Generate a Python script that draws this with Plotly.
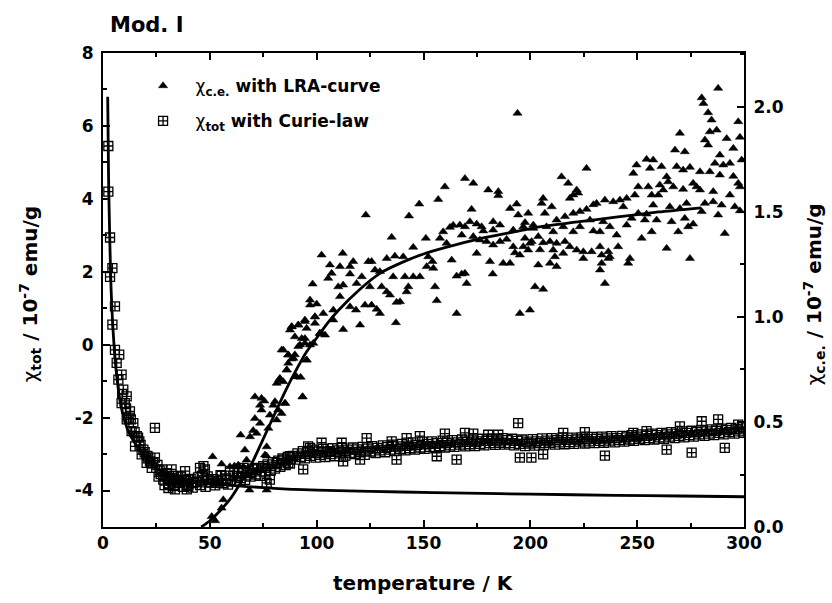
import plotly.graph_objects as go

# ---------------- data ----------------
# chi_c.e. (right axis, 10^-7 emu/g) measured points: temperature / value
tri_T = [51.3, 50.9, 52.5, 55.5, 56.3, 55.5, 59.4, 61.5, 63.3, 64.4, 65.7, 66.4, 67.2, 68.5, 68.8,
         70.3, 71.1, 71.9, 71.1, 73.5, 73.5, 74.2, 74.2, 75.5, 75.8, 76.6, 76.6, 76.6, 77.4, 78.1,
         79.7, 80.5, 81.3, 81.3, 82.0, 82.8, 83.6, 84.4, 84.4, 85.2, 86.0, 86.7, 86.7, 88.3, 89.8,
         88.3, 87.5, 90.6, 91.4, 92.5, 92.2, 93.4, 94.5, 94.5, 95.3, 96.9, 98.4, 99.2, 100.0, 96.9,
         96.9, 98.1, 102.3, 103.9, 101.5, 103.1, 99.2, 102.3, 105.4, 106.2, 107.0, 107.8, 107.8, 110.1, 110.9,
         110.9, 112.2, 112.4, 112.4, 115.6, 115.6, 115.6, 117.1, 118.4, 118.7, 120.3, 121.1, 122.6, 123.0, 124.2,
         124.9, 125.7, 125.7, 127.3, 128.1, 129.6, 129.6, 130.4, 132.8, 132.8, 134.3, 135.1, 135.8, 136.6, 137.1,
         137.4, 139.0, 140.5, 141.3, 142.1, 142.9, 143.2, 145.2, 145.2, 148.0, 148.3, 151.1, 151.5, 152.2, 154.2,
         154.6, 155.4, 156.2, 156.9, 157.7, 159.2, 160.0, 160.8, 162.4, 163.2, 163.9, 165.5, 165.5, 167.0, 167.9,
         167.9, 169.4, 169.4, 169.4, 170.2, 171.7, 172.5, 173.3, 173.3, 174.9, 174.9, 176.4, 177.2, 178.0, 179.5,
         180.3, 181.1, 182.4, 182.6, 182.6, 182.6, 185.0, 185.0, 185.8, 185.8, 187.3, 188.9, 190.5, 190.5, 192.0,
         192.0, 192.8, 193.6, 194.0, 194.3, 195.1, 195.1, 196.7, 196.7, 197.5, 197.5, 199.0, 199.0, 199.8, 199.8,
         200.6, 201.4, 201.4, 202.2, 203.7, 203.7, 204.5, 205.3, 206.0, 206.0, 206.0, 206.8, 207.6, 209.2, 209.2,
         210.0, 210.7, 210.7, 211.5, 212.3, 212.3, 212.3, 214.6, 215.4, 215.4, 216.2, 216.2, 217.7, 218.5, 218.5,
         220.1, 220.1, 220.1, 221.7, 221.7, 222.4, 223.2, 223.2, 224.8, 224.8, 226.3, 226.3, 227.9, 228.7, 229.5,
         229.5, 231.0, 232.6, 232.6, 232.6, 233.4, 233.4, 234.1, 234.9, 234.9, 236.5, 236.5, 237.2, 237.2, 238.8,
         240.4, 241.1, 241.9, 243.5, 245.1, 245.1, 245.8, 246.6, 247.4, 248.2, 248.9, 249.7, 250.5, 250.5, 252.1,
         253.6, 254.4, 254.4, 255.2, 256.0, 256.8, 256.8, 257.5, 257.5, 259.1, 259.9, 260.6, 261.4, 262.2, 263.8,
         263.8, 264.5, 265.3, 266.1, 266.9, 267.7, 268.5, 269.2, 270.0, 270.0, 271.5, 271.5, 272.3, 272.3, 273.1,
         273.9, 274.7, 274.7, 276.2, 276.2, 277.8, 279.4, 279.4, 280.2, 280.2, 281.0, 281.7, 281.7, 283.2, 283.2,
         284.0, 284.0, 284.8, 285.6, 285.6, 286.4, 287.2, 287.9, 287.9, 288.7, 288.7, 289.5, 290.3, 291.0, 291.9,
         293.4, 293.4, 295.0, 295.0, 295.7, 297.3, 297.3, 298.1, 298.1, 298.1, 298.9,
         85.2, 93.4, 82.4, 89.8, 86.0, 91.4, 94.5, 86.7, 89.1, 95.3, 83.6, 89.8, 93.0, 88.3, 91.4,
         94.5, 99.2, 95.3, 101.5]
tri_V = [0.335, 0.05, 0.03, 0.09, 0.13, 0.30, 0.287, 0.29, 0.295, 0.438, 0.287, 0.367, 0.319, 0.176, 0.43,
         0.46, 0.517, 0.446, 0.62, 0.494, 0.58, 0.557, 0.613, 0.60, 0.343, 0.382, 0.338, 0.176, 0.47, 0.533,
         0.58, 0.597, 0.51, 0.684, 0.557, 0.708, 0.541, 0.692, 0.843, 0.589, 0.748, 0.78, 0.82, 0.80, 0.82,
         0.954, 0.938, 0.716, 0.962, 0.713, 0.867, 0.62, 0.898, 0.978, 0.795, 0.867, 0.875, 0.97, 1.062, 1.081,
         1.057, 1.157, 0.922, 0.914, 0.922, 1.017, 1.001, 1.295, 1.184, 1.248, 1.208, 0.986, 1.033, 1.144, 1.24,
         1.097, 1.303, 1.152, 0.941, 1.205, 1.24, 1.049, 1.264, 1.033, 1.16, 0.962, 1.192, 1.057, 1.486, 1.264,
         1.144, 1.264, 1.057, 1.224, 1.037, 1.216, 1.017, 1.144, 1.279, 1.12, 1.105, 1.38, 1.192, 1.29, 0.973,
         1.07, 1.073, 1.287, 1.192, 1.12, 1.144, 1.481, 1.332, 1.192, 1.538, 1.192, 1.375, 1.24, 1.287, 1.264,
         1.232, 1.144, 1.078, 1.56, 1.375, 1.406, 1.62, 1.351, 1.427, 1.271, 1.437, 1.195, 1.017, 1.438, 1.39,
         1.205, 1.66, 1.43, 1.208, 1.16, 1.454, 1.513, 1.637, 1.383, 1.443, 1.303, 1.367, 1.43, 1.41, 1.359,
         1.605, 1.264, 1.205, 1.454, 1.414, 1.343, 1.597, 1.578, 1.438, 1.359, 1.256, 1.37, 1.517, 1.256, 1.414,
         1.335, 1.306, 1.538, 1.97, 1.486, 1.295, 1.017, 1.43, 1.335, 1.45, 1.375, 1.494, 1.319, 1.351, 1.033,
         1.359, 1.438, 1.422, 1.144, 1.248, 1.383, 1.32, 1.541, 1.565, 1.354, 1.132, 1.494, 1.43, 1.359, 1.256,
         1.525, 1.406, 1.319, 1.287, 1.462, 1.351, 1.24, 1.668, 1.43, 1.303, 1.478, 1.359, 1.637, 1.565, 1.335,
         1.581, 1.494, 1.406, 1.605, 1.319, 1.59, 1.502, 1.43, 1.311, 1.279, 1.708, 1.513, 1.462, 1.311, 1.535,
         1.41, 1.541, 1.406, 1.335, 1.224, 1.295, 1.256, 1.454, 1.557, 1.16, 1.311, 1.279, 1.43, 1.287, 1.549,
         1.39, 1.335, 1.557, 1.525, 1.565, 1.438, 1.256, 1.279, 1.47, 1.684, 1.581, 1.724, 1.62, 1.494, 1.375,
         1.462, 1.751, 1.49, 1.62, 1.708, 1.581, 1.406, 1.748, 1.533, 1.462, 1.581, 1.629, 1.716, 1.605, 1.668,
         1.327, 1.644, 1.525, 1.454, 1.62, 1.795, 1.716, 1.406, 1.875, 1.517, 1.70, 1.608, 1.787, 1.47, 1.541,
         1.43, 1.713, 1.279, 1.637, 1.443, 1.62, 1.692, 1.605, 2.044, 1.502, 2.017, 1.843, 1.541, 1.973, 1.819,
         1.882, 1.692, 1.938, 1.597, 1.549, 1.732, 1.89, 2.089, 1.486, 1.771, 1.676, 1.533, 1.724, 1.398, 1.85,
         1.732, 1.581, 1.803, 1.67, 1.525, 1.93, 1.637, 1.856, 1.62, 1.506, 1.748,
         0.589, 0.62, 0.70, 0.716, 0.748, 0.859, 0.875, 0.819, 0.803, 0.795, 0.843, 0.906, 0.898, 0.954, 0.962,
         0.986, 1.001, 0.946, 0.922]

# chi_tot (left axis, 10^-7 emu/g) measured points
sq_T = [2.5, 2.5, 3.3, 4.4, 3.3, 5.6, 4.4, 5.6, 7.6, 6.4, 8.7, 7.2, 9.5, 11.1, 8.7, 12.6, 11.1, 14.2, 13.4, 15.8,
        17.0, 15.0, 18.9, 18.1, 21.2, 24.3, 20.4, 22.8, 25.5, 27.5, 24.3, 29.8, 28.2, 32.1, 30.6, 33.7, 35.2, 38.4, 39.9, 39.2,
        42.3, 45.4, 47.7, 46.2, 49.3, 53.2, 55.5, 59.4, 62.6, 65.7, 68.8, 71.9, 76.6, 78.1, 75.8, 81.3, 84.4, 86.7, 32.9, 36.0,
        36.8, 32.1, 9.0, 10.2, 10.8, 12.0, 13.0, 14.8, 16.4, 17.6, 19.5, 20.8, 22.0, 23.5, 26.5, 27.0, 29.0, 31.0, 26.0, 28.8,
        30.5, 31.5, 33.0, 34.0, 35.5, 36.5, 37.5, 38.5, 40.0, 41.0, 42.0, 43.5, 44.5, 45.5, 47.0, 48.0, 49.0, 50.5, 51.5, 52.5,
        54.0, 55.0, 56.0, 57.5, 58.5, 59.5, 61.0, 62.0, 63.0, 64.5, 65.5, 66.5, 68.0, 69.0, 70.0, 71.5, 72.5, 73.5, 75.0, 76.0,
        77.0, 78.5, 79.5, 80.5, 82.0, 83.0, 84.0, 85.5, 86.5, 87.5, 89.0, 90.0, 91.0, 92.5, 93.5, 94.5, 96.0, 97.0, 98.0, 99.5,
        100.5, 101.5, 103.0, 104.0, 105.0, 106.5, 107.5, 108.5, 110.0, 111.0, 112.0, 113.5, 114.5, 115.5, 117.0, 118.0, 119.0, 120.5, 121.5, 122.5,
        124.0, 125.0, 126.0, 127.5, 128.5, 129.5, 131.0, 132.0, 133.0, 134.5, 135.5, 136.5, 138.0, 139.0, 140.0, 141.5, 142.5, 143.5, 145.0, 146.0,
        147.0, 148.5, 149.5, 150.5, 152.0, 153.0, 154.0, 155.5, 156.5, 157.5, 159.0, 160.0, 161.0, 162.5, 163.5, 164.5, 166.0, 167.0, 168.0, 169.5,
        170.5, 171.5, 173.0, 174.0, 175.0, 176.5, 177.5, 178.5, 180.0, 181.0, 182.0, 183.5, 184.5, 185.5, 187.0, 188.0, 189.0, 190.5, 191.5, 192.5,
        194.0, 195.0, 196.0, 197.5, 198.5, 199.5, 201.0, 202.0, 203.0, 204.5, 205.5, 206.5, 208.0, 209.0, 210.0, 211.5, 212.5, 213.5, 215.0, 216.0,
        217.0, 218.5, 219.5, 220.5, 222.0, 223.0, 224.0, 225.5, 226.5, 227.5, 229.0, 230.0, 231.0, 232.5, 233.5, 234.5, 236.0, 237.0, 238.0, 239.5,
        240.5, 241.5, 243.0, 244.0, 245.0, 246.5, 247.5, 248.5, 250.0, 251.0, 252.0, 253.5, 254.5, 255.5, 257.0, 258.0, 259.0, 260.5, 261.5, 262.5,
        264.0, 265.0, 266.0, 267.5, 268.5, 269.5, 271.0, 272.0, 273.0, 274.5, 275.5, 276.5, 278.0, 279.0, 280.0, 281.5, 282.5, 283.5, 285.0, 286.0,
        287.0, 288.5, 289.5, 290.5, 292.0, 293.0, 294.0, 295.5, 296.5, 297.5, 299.0, 300.0,
        194.3, 123.4, 102.3, 93.7, 112.4, 120.3, 137.4, 156.2, 165.5, 195.1, 200.5, 206.0, 234.9, 263.8, 275.5, 291.0, 280.2, 287.9, 297.3, 270.0,
        142.1, 148.3, 160.0, 169.4, 173.3, 180.3, 185.0, 215.4, 225.5, 248.2, 254.4, 135.1, 111.7, 96.0, 87.5, 96.9, 106.2, 47.0, 39.2]
sq_X = [5.45, 4.2, 2.94, 2.1, 1.86, 1.05, 0.55, -0.14, -0.27, -0.5, -0.82, -0.96, -1.23, -1.42, -1.6, -1.83, -2.05, -2.15, -2.37, -2.51,
        -2.65, -2.79, -2.88, -3.01, -3.1, -3.1, -3.24, -3.38, -3.3, -3.42, -2.28, -3.52, -3.7, -3.74, -3.93, -3.97, -3.6, -3.47, -3.7, -3.88,
        -3.79, -3.38, -3.42, -3.6, -3.7, -3.79, -3.6, -3.47, -3.6, -3.38, -3.52, -3.42, -3.79, -3.7, -3.38, -3.24, -3.15, -3.24, -3.6, -3.79,
        -3.7, -3.42, -1.35, -1.6, -1.75, -2.0, -2.05, -2.4, -2.55, -2.75, -2.95, -3.05, -3.2, -3.25, -3.45, -3.55, -3.6, -3.65, -3.62, -3.85,
        -3.82, -3.66, -3.88, -3.71, -3.79, -3.62, -3.9, -3.74, -3.83, -3.68, -3.92, -3.76, -3.64, -3.85, -3.72, -3.9, -3.61, -3.78, -3.69, -3.86,
        -3.74, -3.58, -3.8, -3.67, -3.84, -3.71, -3.6, -3.74, -3.52, -3.66, -3.5, -3.71, -3.45, -3.62, -3.4, -3.56, -3.38, -3.6, -3.33, -3.5,
        -3.28, -3.45, -3.22, -3.4, -3.18, -3.35, -3.12, -3.3, -3.08, -3.26, -3.05, -3.15, -2.98, -3.08, -2.92, -3.12, -2.95, -3.05, -2.88, -3.1,
        -2.93, -3.02, -2.86, -3.08, -2.94, -3.0, -2.84, -3.06, -2.9, -2.98, -2.83, -3.04, -2.88, -2.97, -2.82, -3.0, -2.87, -2.95, -2.8, -3.02,
        -2.85, -2.93, -2.78, -2.97, -2.83, -2.9, -2.76, -2.95, -2.81, -2.88, -2.74, -2.92, -2.79, -2.86, -2.72, -2.9, -2.77, -2.84, -2.68, -2.88,
        -2.75, -2.82, -2.66, -2.86, -2.72, -2.8, -2.65, -2.84, -2.7, -2.78, -2.63, -2.82, -2.69, -2.76, -2.62, -2.8, -2.68, -2.74, -2.6, -2.79,
        -2.66, -2.73, -2.6, -2.78, -2.65, -2.72, -2.58, -2.76, -2.64, -2.7, -2.57, -2.75, -2.63, -2.69, -2.56, -2.74, -2.62, -2.7, -2.58, -2.76,
        -2.64, -2.72, -2.6, -2.78, -2.66, -2.71, -2.59, -2.77, -2.65, -2.7, -2.57, -2.75, -2.63, -2.69, -2.56, -2.74, -2.62, -2.68, -2.55, -2.73,
        -2.61, -2.67, -2.55, -2.72, -2.6, -2.66, -2.54, -2.71, -2.59, -2.65, -2.53, -2.7, -2.58, -2.64, -2.52, -2.69, -2.57, -2.63, -2.51, -2.68,
        -2.56, -2.62, -2.5, -2.66, -2.54, -2.6, -2.48, -2.64, -2.52, -2.58, -2.46, -2.62, -2.5, -2.56, -2.44, -2.6, -2.48, -2.54, -2.42, -2.58,
        -2.46, -2.52, -2.4, -2.56, -2.44, -2.5, -2.38, -2.54, -2.42, -2.48, -2.36, -2.52, -2.4, -2.46, -2.34, -2.5, -2.38, -2.44, -2.32, -2.48,
        -2.36, -2.42, -2.3, -2.46, -2.34, -2.4, -2.28, -2.44, -2.32, -2.38, -2.27, -2.42,
        -2.15, -2.56, -2.69, -3.42, -3.2, -3.15, -3.15, -3.06, -3.15, -3.1, -3.1, -3.01, -3.04, -2.88, -2.96, -2.83, -2.1, -2.05, -2.19, -2.24,
        -2.56, -2.51, -2.44, -2.42, -2.44, -2.47, -2.47, -2.42, -2.4, -2.42, -2.37, -2.65, -2.69, -2.79, -3.06, -2.83, -2.92, -3.33, -3.97]

# Curie-law fit curve (left axis)
curie_T = [2.2, 2.6, 3.2, 3.8, 4.5, 5.5, 6.5, 8, 10, 12, 15, 18, 22, 27, 33, 40, 50, 60, 75, 90,
           110, 140, 170, 200, 240, 270, 300]
curie_X = [6.8, 4.6, 2.8, 1.5, 0.6, -0.3, -0.9, -1.55, -2.05, -2.4, -2.7, -2.95, -3.25, -3.45, -3.6, -3.72, -3.8, -3.86, -3.92, -3.97,
           -4.0, -4.04, -4.07, -4.1, -4.13, -4.15, -4.17]

# LRA fit curve (right axis)
lra_T = [46, 50, 55, 60, 65, 70, 75, 80, 85, 90, 95, 100, 105, 110, 120, 130, 140, 150, 160, 175,
         190, 205, 220, 240, 260, 280]
lra_V = [0.0, 0.03, 0.08, 0.14, 0.22, 0.31, 0.42, 0.53, 0.64, 0.74, 0.83, 0.9, 0.97, 1.03, 1.13, 1.21, 1.26, 1.30, 1.33, 1.37,
         1.40, 1.43, 1.45, 1.475, 1.50, 1.52]

# tick labels
x_tickvals = [0, 50, 100, 150, 200, 250, 300]
x_ticktext = ["0", "50", "100", "150", "200", "250", "300"]
y_tickvals = [-4, -2, 0, 2, 4, 6, 8]
y_ticktext = ["-4", "-2", "0", "2", "4", "6", "8"]
y2_tickvals = [0.0, 0.5, 1.0, 1.5, 2.0]
y2_ticktext = ["0.0", "0.5", "1.0", "1.5", "2.0"]

FONT = "DejaVu Sans, Liberation Sans, sans-serif"
CHI = "χ"


def bold(lst):
    return ["<b>" + s + "</b>" for s in lst]


fig = go.Figure()
fig.add_trace(go.Scatter(
    x=tri_T, y=tri_V, yaxis="y2", mode="markers",
    name=CHI + "<b><sub>c.e.</sub> with LRA-curve</b>", legendgroup="a",
    marker=dict(symbol="triangle-up", size=8, color="#000000",
                line=dict(color="#000000", width=0.5))))
fig.add_trace(go.Scatter(
    x=sq_T, y=sq_X, yaxis="y", mode="markers",
    name=CHI + "<b><sub>tot</sub> with Curie-law</b>", legendgroup="b",
    marker=dict(symbol="square-cross-open", size=9, color="#000000",
                line=dict(width=1.3))))
fig.add_trace(go.Scatter(
    x=curie_T, y=curie_X, yaxis="y", mode="lines", showlegend=False,
    line=dict(color="black", width=2.8, shape="spline", smoothing=0.6)))
fig.add_trace(go.Scatter(
    x=lra_T, y=lra_V, yaxis="y2", mode="lines", showlegend=False,
    line=dict(color="black", width=2.8, shape="spline", smoothing=0.6)))

tickfont = dict(family=FONT, size=17, color="black", weight=700)
common = dict(showgrid=False, zeroline=False, showline=True, linecolor="black", linewidth=2,
              ticks="inside", tickcolor="black", tickwidth=1.5, ticklen=7, tickfont=tickfont,
              tickmode="array")
minor_common = dict(ticks="inside", ticklen=4, tickwidth=1.5, tickcolor="black")

fig.update_layout(
    width=832, height=603,
    margin=dict(l=103, r=88, t=53, b=76),
    paper_bgcolor="white", plot_bgcolor="white",
    font=dict(family=FONT, color="black"),
    xaxis=dict(range=[0, 300], tickvals=x_tickvals, ticktext=bold(x_ticktext), mirror="ticks",
               minor=dict(tickmode="linear", tick0=0, dtick=25, **minor_common), **common),
    yaxis=dict(range=[-5, 8], tickvals=y_tickvals, ticktext=bold(y_ticktext), ticklabelstandoff=4,
               minor=dict(tickmode="linear", tick0=0, dtick=1, **minor_common), **common),
    yaxis2=dict(range=[0, 2.257], tickvals=y2_tickvals, ticktext=bold(y2_ticktext), ticklabelstandoff=4,
                overlaying="y", side="right",
                minor=dict(tickmode="linear", tick0=0, dtick=0.25, **minor_common), **common),
    showlegend=True,
    legend=dict(x=0.043, y=0.968, xanchor="left", yanchor="top", bgcolor="rgba(0,0,0,0)",
                font=dict(family=FONT, size=17, color="black"),
                itemwidth=55, traceorder="grouped", tracegroupgap=10),
)

anns = [
    dict(text="<b>Mod. I</b>", x=0.008, y=1.059, xref="paper", yref="paper", xanchor="left",
         yanchor="middle", showarrow=False, font=dict(family=FONT, size=21, color="black")),
    dict(text="<b>temperature / K</b>", x=0.5, y=-0.118, xref="paper", yref="paper", xanchor="center",
         yanchor="middle", showarrow=False, font=dict(family=FONT, size=20, color="black")),
    dict(text=CHI + "<b><sub>tot</sub> / 10<sup>-7</sup> emu/g</b>", x=-0.113, y=0.49, xref="paper", yref="paper",
         xanchor="center", yanchor="middle", textangle=-90, showarrow=False,
         font=dict(family=FONT, size=20, color="black")),
    dict(text=CHI + "<b><sub>c.e.</sub> / 10<sup>-7</sup> emu/g</b>", x=1.11, y=0.49, xref="paper", yref="paper",
         xanchor="center", yanchor="middle", textangle=-90, showarrow=False,
         font=dict(family=FONT, size=20, color="black")),
]
fig.update_layout(annotations=anns)

fig.write_html("out.html")
